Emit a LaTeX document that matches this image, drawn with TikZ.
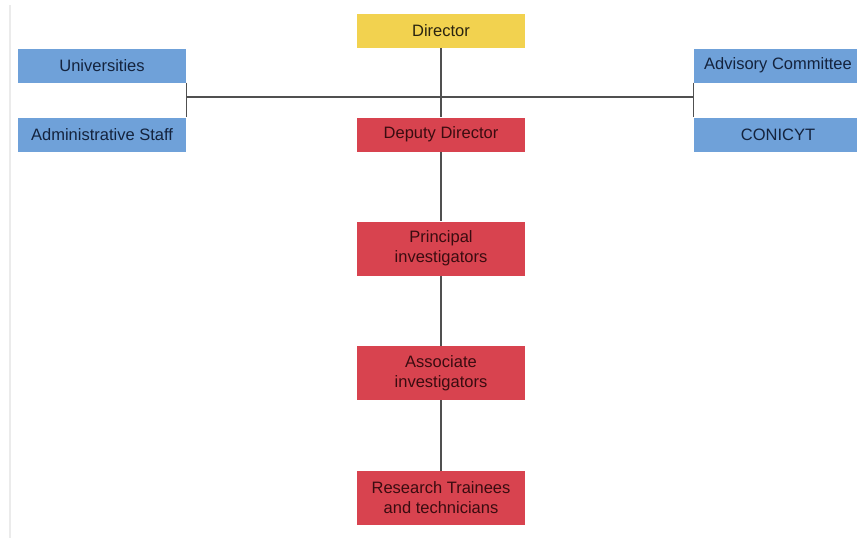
\documentclass[tikz,border=0pt]{standalone}
\usepackage{fontspec}
\setmainfont{Liberation Sans}
\definecolor{boxyellow}{HTML}{F2D24F}
\definecolor{boxblue}{HTML}{6FA1D9}
\definecolor{boxred}{HTML}{D8434F}
\definecolor{txtblue}{HTML}{14233D}
\definecolor{txtred}{HTML}{3A0C10}
\definecolor{txtyellow}{HTML}{2A2410}
\definecolor{linegray}{HTML}{505050}
\begin{document}
\begin{tikzpicture}[x=1pt,y=-1pt,
  box/.style={rectangle,minimum width=168pt,minimum height=34pt,inner sep=0pt,
    font=\fontsize{16.5}{20}\selectfont,align=center},
  ybox/.style={box,fill=boxyellow,text=txtyellow},
  bbox/.style={box,fill=boxblue,text=txtblue},
  rbox/.style={box,fill=boxred,text=txtred},
  tall/.style={minimum height=54pt},
  conn/.style={draw=linegray,line width=1.1pt}]
\useasboundingbox (0,0) rectangle (857,539);
\fill[white] (0,0) rectangle (857,539);
\draw[black!8,line width=2pt] (10,5) -- (10,538);
\begin{scope}
\clip (0,0) rectangle (857,539);
\node[ybox] (dir) at (441,31) {Director};
\node[bbox] (uni) at (102,65.5) {Universities};
\node[bbox] (adm) at (102,134.5) {Administrative Staff};
\node[bbox] (adv) at (778,65.5) {Advisory Committee};
\node[bbox] (con) at (778,134.5) {CONICYT};
\node[rbox] (dep) at (441,134.5) {Deputy Director};
\node[rbox,tall] (pri) at (441,248.5) {Principal\\investigators};
\node[rbox,tall] (ass) at (441,373) {Associate\\investigators};
\node[rbox,tall] (res) at (441,498) {Research Trainees\\and technicians};
\end{scope}
\coordinate (lb) at (187,97);
\coordinate (rb) at (694,97);
\draw[conn] (dir) -- (dep);
\draw[conn] (dep) -- (pri);
\draw[conn] (pri) -- (ass);
\draw[conn] (ass) -- (res);
\draw[conn] (lb) -- (rb);
\draw[conn] (uni.south east) -- (adm.north east);
\draw[conn] (adv.south west) -- (con.north west);
\end{tikzpicture}
\end{document}
